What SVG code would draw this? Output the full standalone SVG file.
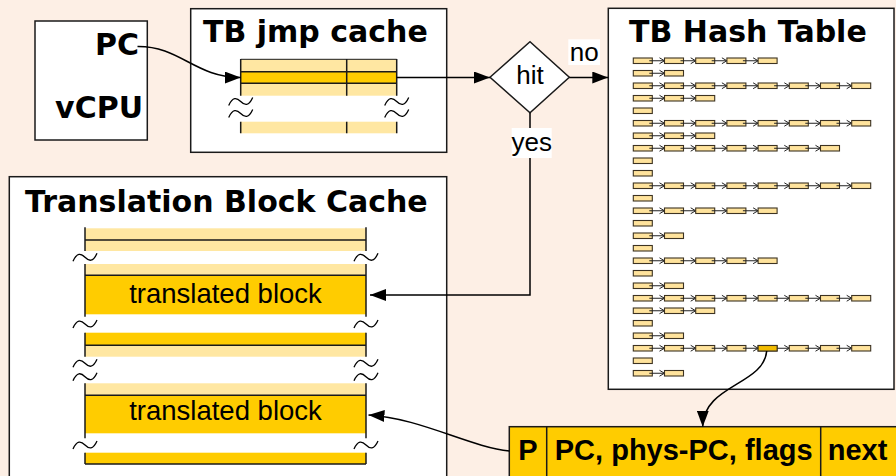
<svg xmlns="http://www.w3.org/2000/svg" width="896" height="476" viewBox="0 0 896 476">
<style>
.bx{fill:#fff;stroke:#1a1a1a;stroke-width:1.5}
.t{font-family:"DejaVu Sans",sans-serif;font-weight:bold;font-size:30px;fill:#000}
.r{font-family:"Liberation Sans",Arial,sans-serif;font-weight:bold;font-size:29px;fill:#000}
.l{font-family:"Liberation Sans",Arial,sans-serif;font-size:26px;fill:#000}
.tb{font-family:"Liberation Sans",Arial,sans-serif;font-size:27.5px;fill:#000}
.c{fill:none;stroke:#000;stroke-width:1.5}
.lt{fill:#ffe7a2}
.dk{fill:#ffcc00}
.ln{stroke:#1a1a1a;stroke-width:1.5;fill:none}
.thin{stroke:#1a1a1a;stroke-width:1;fill:none}
.wv{fill:none;stroke:#000;stroke-width:1.3}
.hb{fill:#ffe39c;stroke:#3d3322;stroke-width:1.1}
.hl{fill:#f2bc00;stroke:#3d3322;stroke-width:1.1}
.lk{fill:none;stroke:#222;stroke-width:1}
</style>
<defs>
<marker id="ah" markerUnits="userSpaceOnUse" markerWidth="16" markerHeight="12" refX="16" refY="6" orient="auto">
<path d="M0,0L16,6L0,12Z" fill="#000"/>
</marker>
<path id="wv" class="wv" d="M-12,4C-8,-5 -4,-4 0,0S8,5 12,-4"/>
<rect id="hb" class="hb" width="19" height="5.5"/>
<g id="lk"><path class="lk" d="M16,2.75H31.2M26.2,-0.2L31.2,2.75L26.2,5.7"/><use href="#hb" x="31.2"/></g>
<g id="c1"><use href="#hb"/></g>
<g id="c2"><use href="#c1"/><use href="#lk"/></g>
<g id="c3"><use href="#c2"/><use href="#lk" x="31.2"/></g>
<g id="c4"><use href="#c3"/><use href="#lk" x="62.4"/></g>
<g id="c5"><use href="#c4"/><use href="#lk" x="93.6"/></g>
<g id="c6"><use href="#c5"/><use href="#lk" x="124.8"/></g>
<g id="c7"><use href="#c6"/><use href="#lk" x="156"/></g>
<g id="c8"><use href="#c7"/><use href="#lk" x="187.2"/></g>
</defs>
<rect width="896" height="476" fill="#fdefe5"/>

<g id="vcpu">
<rect class="bx" x="35" y="21" width="112.3" height="119"/>
<text class="t" x="139" y="55" text-anchor="end">PC</text>
<text class="t" x="143" y="118.3" text-anchor="end">vCPU</text>
</g>

<g id="jmpcache">
<rect class="bx" x="190.7" y="8.7" width="256" height="143.6"/>
<text class="t" x="203" y="41.7">TB jmp cache</text>
<rect class="lt" x="240.7" y="59.3" width="156" height="36.4"/>
<rect class="dk" x="240.7" y="71.7" width="156" height="11.6"/>
<path class="thin" d="M240.7,59.3H396.7"/>
<path class="ln" d="M240.7,71.7H396.7M240.7,83.3H396.7M240.7,59H240.7V95.7M346.7,59V95.7M396.7,59V95.7"/>
<use href="#wv" x="240.7" y="101.5"/>
<use href="#wv" x="240.7" y="113.5"/>
<use href="#wv" x="396.7" y="101.5"/>
<use href="#wv" x="396.7" y="113.5"/>
<rect class="lt" x="240.7" y="121.7" width="156" height="11.6"/>
<path class="ln" d="M240.7,121.7V133.3M346.7,121.7V133.3M396.7,121.7V133.3"/>
</g>

<g id="hit">
<polygon class="bx" points="490,77.2 530,41.7 569.3,77.2 530,112.7"/>
<text class="l" x="530" y="84" text-anchor="middle">hit</text>
</g>

<g id="hashtable">
<rect class="bx" x="608.3" y="8.3" width="285.7" height="381"/>
<text class="t" x="629" y="41.7">TB Hash Table</text>
<use href="#c5" x="633.3" y="58"/>
<use href="#c2" x="633.3" y="70.5"/>
<use href="#c8" x="633.3" y="83"/>
<use href="#c3" x="633.3" y="95.5"/>
<use href="#c1" x="633.3" y="108"/>
<use href="#c8" x="633.3" y="120.5"/>
<use href="#c3" x="633.3" y="133"/>
<use href="#c7" x="633.3" y="145.5"/>
<use href="#c1" x="633.3" y="158"/>
<use href="#c1" x="633.3" y="170.5"/>
<use href="#c8" x="633.3" y="183"/>
<use href="#c1" x="633.3" y="195.5"/>
<use href="#c5" x="633.3" y="208"/>
<use href="#c1" x="633.3" y="220.5"/>
<use href="#c2" x="633.3" y="233"/>
<use href="#c1" x="633.3" y="245.5"/>
<use href="#c5" x="633.3" y="258"/>
<use href="#c1" x="633.3" y="270.5"/>
<use href="#c2" x="633.3" y="283"/>
<use href="#c8" x="633.3" y="295.5"/>
<use href="#c3" x="633.3" y="308"/>
<use href="#c1" x="633.3" y="320.5"/>
<use href="#c2" x="633.3" y="333"/>
<use href="#c8" x="633.3" y="345.5"/>
<rect class="hl" x="758.1" y="345.5" width="19" height="5.5"/>
<use href="#c1" x="633.3" y="358"/>
<use href="#c2" x="633.3" y="370.5"/>
</g>

<g id="tbcache">
<rect class="bx" x="9.3" y="176.7" width="437.4" height="310"/>
<text class="t" x="25" y="211.7">Translation Block Cache</text>
<rect class="lt" x="85" y="228.3" width="281" height="22.7"/>
<path class="ln" d="M85,240H366M85,227.3V251M366,227.3V251"/>
<use href="#wv" x="85" y="257.3"/>
<use href="#wv" x="366" y="257.3"/>
<rect class="lt" x="85" y="264" width="281" height="11.3"/>
<rect class="dk" x="85" y="275.3" width="281" height="39"/>
<path class="ln" d="M85,275.3H366M85,264V316.7M366,264V316.7"/>
<text class="tb" x="225.5" y="303.3" text-anchor="middle">translated block</text>
<use href="#wv" x="85" y="324"/>
<use href="#wv" x="366" y="324"/>
<rect class="dk" x="85" y="332.7" width="281" height="12.6"/>
<rect class="lt" x="85" y="345.3" width="281" height="11.4"/>
<path class="ln" d="M85,345.3H366M85,332.7V356.7M366,332.7V356.7"/>
<use href="#wv" x="85" y="363.3"/>
<use href="#wv" x="366" y="363.3"/>
<use href="#wv" x="85" y="376.7"/>
<use href="#wv" x="366" y="376.7"/>
<rect class="lt" x="85" y="383.3" width="281" height="12"/>
<rect class="dk" x="85" y="395.3" width="281" height="38"/>
<path class="ln" d="M85,395.3H366M85,383.3V438.3M366,383.3V438.3"/>
<text class="tb" x="225.5" y="420" text-anchor="middle">translated block</text>
<use href="#wv" x="85" y="445"/>
<use href="#wv" x="366" y="445"/>
<rect class="dk" x="85" y="452.7" width="281" height="11.3"/>
<path class="ln" d="M85,464H366M85,452.7V464M366,452.7V464"/>
</g>

<g id="record">
<rect x="509.3" y="426.7" width="400" height="60" fill="#ffcc00" stroke="#1a1a1a" stroke-width="1.5"/>
<path class="ln" d="M546.7,426.7V476M820.7,426.7V476"/>
<text class="r" x="528" y="460" text-anchor="middle">P</text>
<text class="r" x="683.7" y="460" text-anchor="middle">PC, phys-PC, flags</text>
<text class="r" x="857.5" y="460" text-anchor="middle">next</text>
</g>

<g id="connectors">
<path class="c" d="M137.5,46.5C180,46 195,77.5 240.7,77.5" marker-end="url(#ah)"/>
<path class="c" d="M396.7,77.5H490" marker-end="url(#ah)"/>
<path class="c" d="M569.3,77.5H608.3" marker-end="url(#ah)"/>
<path class="c" d="M530,112.7V295H370" marker-end="url(#ah)"/>
<path class="c" d="M766.7,351C764,385 703,385 702.7,426.7" marker-end="url(#ah)"/>
<path class="c" d="M509.3,451C470,447 420,418 368.5,415" marker-end="url(#ah)"/>
<rect x="568.3" y="39.3" width="31.7" height="25.7" fill="#fff"/>
<text class="l" x="584.2" y="61" text-anchor="middle">no</text>
<rect x="511.7" y="128" width="40" height="30" fill="#fff"/>
<text class="l" x="531.7" y="150.7" text-anchor="middle">yes</text>
</g>
</svg>
